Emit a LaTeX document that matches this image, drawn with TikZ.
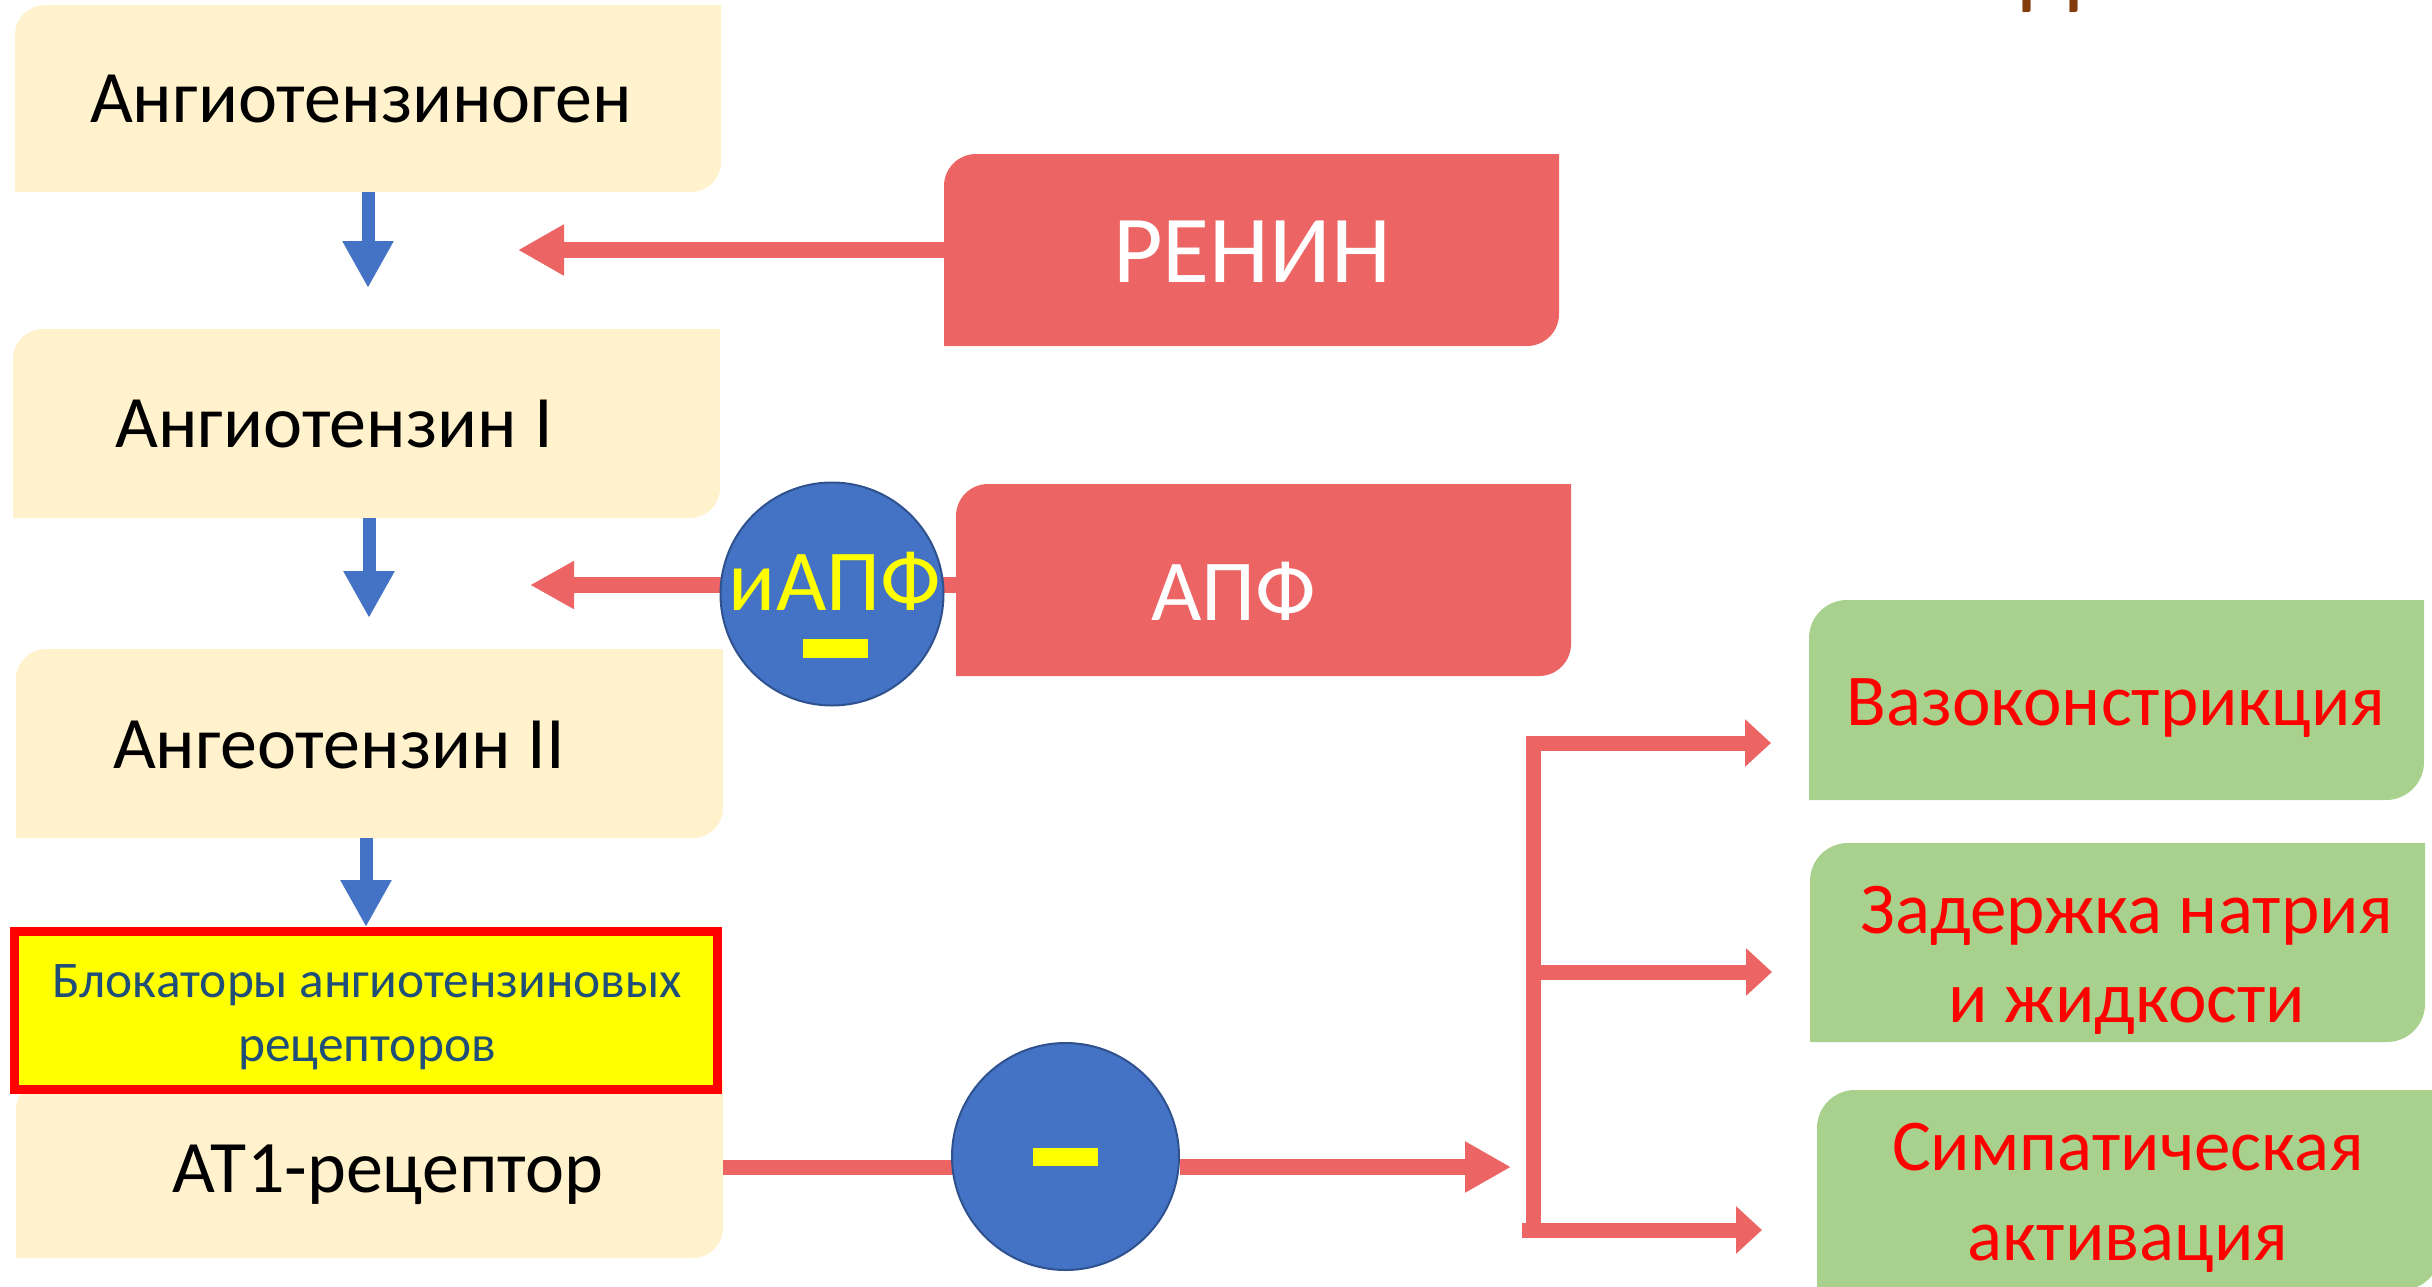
\documentclass[tikz,border=0pt]{standalone}
\usepackage{fontspec}
\setmainfont{Carlito}
\usetikzlibrary{arrows.meta}
\pgfdeclarelayer{bg}
\pgfsetlayers{bg,main}
\definecolor{beige}{HTML}{FFF2CC}
\definecolor{salmon}{HTML}{EC6464}
\definecolor{leaf}{HTML}{A9D18E}
\definecolor{azure}{HTML}{4472C4}
\definecolor{azureline}{HTML}{2F528F}
\definecolor{navytext}{HTML}{1F4E79}
\definecolor{brownt}{HTML}{843C0C}
\definecolor{pureyellow}{RGB}{255,255,0}
\definecolor{purered}{RGB}{255,0,0}
\newcommand\diagfill[3]{%
  \begin{pgfonlayer}{bg}
  \fill[#2] ([yshift=-#3]#1.north west)
    .. controls ([yshift={-0.448*#3}]#1.north west) and ([xshift={0.448*#3}]#1.north west) .. ([xshift=#3]#1.north west)
    -- (#1.north east)
    -- ([yshift=#3]#1.south east)
    .. controls ([yshift={0.448*#3}]#1.south east) and ([xshift={-0.448*#3}]#1.south east) .. ([xshift=-#3]#1.south east)
    -- (#1.south west) -- cycle;
  \end{pgfonlayer}}
\begin{document}
\begin{tikzpicture}[x=0.5pt,y=-0.5pt,
  boxnode/.style={inner sep=0pt, outer sep=0pt, draw=none},
  bluearrow/.style={draw=azure, line width=6.5pt, -{Triangle[width=24pt,length=23.5pt]}},
  redarrow/.style={draw=salmon, line width=8pt, -{Triangle[width=24pt,length=23pt]}},
  redline/.style={draw=salmon, line width=7.5pt},
  branch/.style={draw=salmon, line width=7.5pt, -{Triangle[width=23pt,length=13pt]}},
  ttl/.style={font=\fontsize{37}{44}\selectfont, text=black, anchor=base, inner sep=0pt},
  whitetxt/.style={text=white, anchor=base, inner sep=0pt},
  greentxt/.style={font=\fontsize{36.5}{44.75}\selectfont, text=purered, align=center, inner sep=0pt},
  disc/.style={circle, fill=azure, draw=azureline, line width=1pt, inner sep=0pt},
  minusbar/.style={fill=pureyellow, inner sep=0pt, minimum width=32.5pt, minimum height=9.5pt}
]
\useasboundingbox (0,0) rectangle (2432,1286);
\clip (0,0) rectangle (2432,1286);

% cut-off title fragment
\node[font=\fontsize{52}{60}\selectfont, text=brownt, anchor=base, inner sep=0pt] (title) at (2051,-5) {д};

% beige boxes
\node[boxnode, minimum width=353pt, minimum height=93.5pt] (b1) at (368,98.5) {};
\node[boxnode, minimum width=353.5pt, minimum height=94.5pt] (b2) at (366.5,423.5) {};
\node[boxnode, minimum width=353.5pt, minimum height=94.5pt] (b3) at (369.5,743.5) {};
\node[boxnode, minimum width=353.5pt, minimum height=89pt] (at1) at (369.5,1169) {};
\diagfill{b1}{beige}{15pt}
\diagfill{b2}{beige}{15pt}
\diagfill{b3}{beige}{15pt}
\diagfill{at1}{beige}{15pt}
\node[ttl] (t1) at (361,122) {Ангиотензиноген};
\node[ttl] (t2) at (334,447) {Ангиотензин I};
\node[ttl] (t3) at (339,768) {Ангеотензин II};
\node[ttl] (t4) at (388,1192) {АТ1-рецептор};

% red boxes
\node[boxnode, minimum width=307.5pt, minimum height=96pt] (ren) at (1251.5,250) {};
\node[boxnode, minimum width=307.5pt, minimum height=96pt] (apf) at (1263.5,580) {};
\diagfill{ren}{salmon}{16pt}
\diagfill{apf}{salmon}{16pt}
\node[whitetxt, font=\fontsize{48}{56}\selectfont] (renT) at (1252,282) {РЕНИН};
\node[whitetxt, font=\fontsize{43.5}{52}\selectfont] (apfT) at (1234,620) {АПФ};

% green boxes
\node[boxnode, minimum width=307.5pt, minimum height=100pt] (g1) at (2116.5,700) {};
\node[boxnode, minimum width=307.5pt, minimum height=99.5pt] (g2) at (2117.5,942.5) {};
\node[boxnode, minimum width=311.5pt, minimum height=100pt] (g3) at (2128.5,1190) {};
\diagfill{g1}{leaf}{19pt}
\diagfill{g2}{leaf}{19pt}
\diagfill{g3}{leaf}{19pt}
\node[greentxt, anchor=base] (g1T) at (2116,725) {Вазоконстрикция};
\node[greentxt] (g2T) at (2127,960.5) {Задержка натрия\\и жидкости};
\node[greentxt] (g3T) at (2128,1198) {Симпатическая\\активация};

% yellow blocker box
\node[draw=purered, line width=4.5pt, fill=pureyellow, minimum width=351.5pt, minimum height=79pt,
      inner sep=0pt] (yb) at (366,1010.5) {};
\node[font=\fontsize{25.7}{32}\selectfont, text=navytext, align=center, inner sep=0pt] (ybT)
  at (367,1017.5) {Блокаторы ангиотензиновых\\рецепторов};

% free ends
\coordinate (tip1) at (368,288);
\coordinate (tip2) at (369,618);
\coordinate (tipR) at (518,250);
\coordinate (tipA) at (530,585);
\coordinate (jin) at (1511,1167);
\coordinate (brT) at (1533,736);
\coordinate (brB) at (1533,1237);
\coordinate (a1s) at (1526,743);
\coordinate (a1e) at (1771,743);
\coordinate (a2s) at (1533,972);
\coordinate (a2e) at (1772,972);
\coordinate (a3s) at (1522,1230);
\coordinate (a3e) at (1762,1230);

% blue arrows
\draw[bluearrow] (b1.south -| tip1) -- (tip1);
\draw[bluearrow] (b2.south -| tip2) -- (tip2);
\draw[bluearrow] (b3.south -| yb.north) -- (yb.north);

% red arrows
\draw[redarrow] (ren.west |- tipR) -- (tipR);
\draw[redarrow, -{Triangle[width=22.5pt,length=22pt]}] (apf.west |- tipA) -- (tipA);

% inhibitor discs
\node[disc, minimum size=111.5pt] (c1) at (832,594) {};
\node[font=\fontsize{43.5}{52}\selectfont, text=pureyellow, anchor=base, inner sep=0pt] (c1T) at (835,610) {иАПФ};
\node[minusbar] (m1) at (835.5,648) {};

% AT1 output
\draw[redline] (at1.east |- jin) -- (jin -| 1000,0);
\node[disc, minimum size=113.5pt] (c2) at (1065.5,1156.5) {};
\node[minusbar, minimum height=9pt] (m2) at (1065.5,1157) {};
\draw[redarrow] (c2.east |- jin) -- (jin);

% bracket and branches
\draw[redline] (brT) -- (brB);
\draw[branch] (a1s) -- (a1e);
\draw[branch] (a2s) -- (a2e);
\draw[branch] (a3s) -- (a3e);
\end{tikzpicture}
\end{document}
